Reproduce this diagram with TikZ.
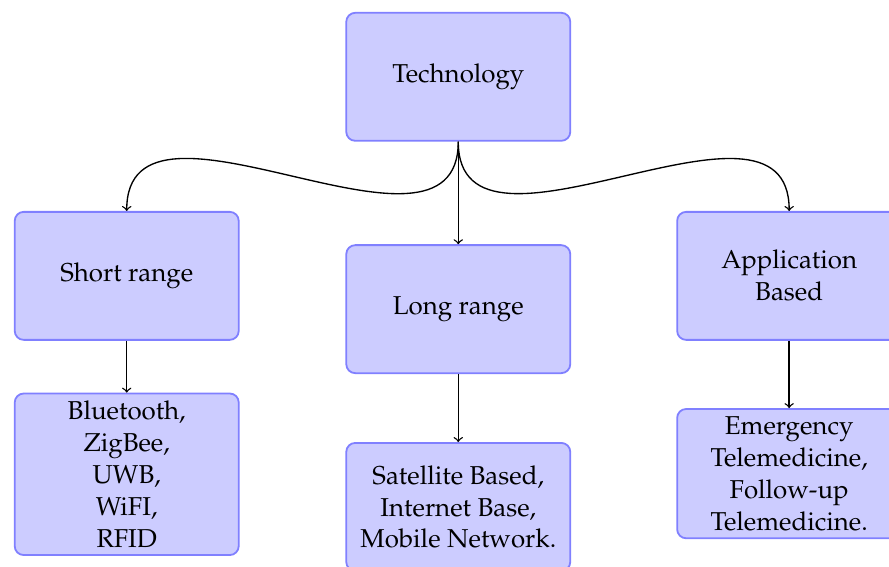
\documentclass[tikz,border=0pt]{standalone}
\usepackage[T1]{fontenc}
\usepackage{mathpazo}
\usepackage{tikz}
\usetikzlibrary{shapes, arrows}

\begin{document}
\begin{tikzpicture}[
	box/.style={draw=blue!50, fill=blue!20, thick, rounded corners, align=center,
		minimum width=3.5cm, minimum height=2cm, font=\fontsize{11.5}{14.2}\selectfont},
	link/.style={->, black, semithick}
	]
	
		\useasboundingbox (0,0) rectangle (13.89,-8.844);
		
		\node[box] (tech) at (7.16,-1.2)    {Technology};
		
		\node[box] (srange) at (1.98,-4.31) 	{Short range};
		\node[box] (lrange) at (7.16,-4.83) 	{Long range};
		\node[box] (appbased) at (12.33,-4.31) 	{Application\\Based};
		
		\node[box] (srlist) at (1.98,-7.41) 	{Bluetooth,\\ZigBee,\\UWB,\\WiFI,\\RFID};
		\node[box] (lrlist) at (7.16,-7.92) 	{Satellite Based,\\Internet Base,\\Mobile Network.};
		\node[box] (applist) at (12.33,-7.40) 	{Emergency\\Telemedicine,\\Follow-up\\Telemedicine.};
		
		\draw [link] (tech.south) to[out=-90, in=90, looseness=1.1] (srange.north);
		\draw [link] (tech.south) -- (lrange.north);
		\draw [link] (tech.south) to[out=-90, in=90, looseness=1.1] (appbased.north);
		
		\draw [link] (srange) -- (srlist);
		\draw [link] (lrange) -- (lrlist);
		\draw [link] (appbased) -- (applist);
			
	\end{tikzpicture}
\end{document}
